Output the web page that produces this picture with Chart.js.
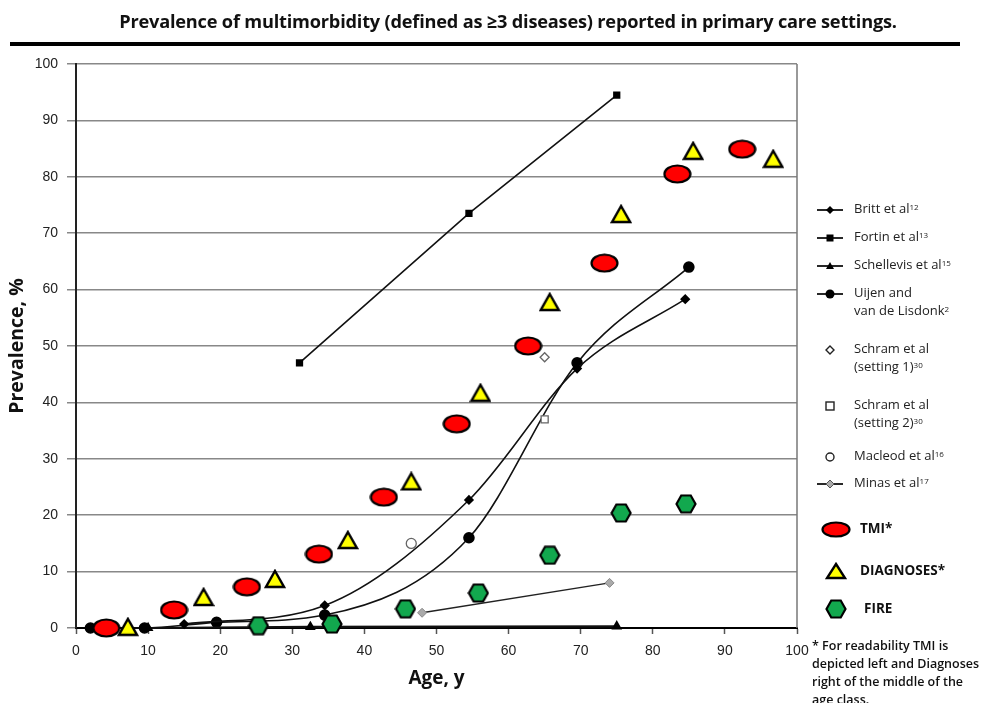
<!DOCTYPE html>
<html>
<head>
<meta charset="utf-8">
<script src="https://cdn.jsdelivr.net/npm/chart.js@4.4.1/dist/chart.umd.min.js"></script>
<style>
  html,body{margin:0;padding:0;background:#fff;}
  #wrap{position:relative;width:988px;height:703px;overflow:hidden;}
  #title{position:absolute;left:14px;top:9px;width:988px;text-align:center;font-family:"Open Sans",sans-serif;font-weight:700;font-size:18.2px;color:#111;letter-spacing:-0.2px;}
  #rule{position:absolute;left:10px;top:42px;width:950px;height:4px;background:#000;}
  canvas#c{position:absolute;left:0;top:0;}
  .lg{position:absolute;font-family:"Open Sans",sans-serif;font-size:13px;color:#222;line-height:18px;}
  .lg sup{font-size:8px;vertical-align:top;position:relative;top:-1px;}
  .ic{position:absolute;}
  .big{position:absolute;font-family:"Open Sans",sans-serif;font-weight:700;font-size:13.5px;color:#111;}
  #note{position:absolute;left:812px;top:637px;width:190px;font-family:"Open Sans",sans-serif;font-weight:600;font-size:12.5px;line-height:18px;color:#111;white-space:nowrap;}
</style>
</head>
<body>
<div id="wrap">
  <canvas id="c" width="988" height="703"></canvas>
  <div id="title">Prevalence of multimorbidity (defined as ≥3 diseases) reported in primary care settings.</div>
  <div id="rule"></div>
  <div id="legend"></div>
  <div id="note">* For readability TMI is<br>depicted left and Diagnoses<br>right of the middle of the<br>age class.</div>
</div>
<script>
// ---------- data ----------
const brittX = [15, 34.5, 54.5, 69.5, 84.5];
const brittY = [0.7, 4, 22.7, 46, 58.3];
const fortinX = [31, 54.5, 75];
const fortinY = [47, 73.5, 94.5];
const schellevisX = [10, 32.5, 75];
const schellevisY = [0, 0.2, 0.3];
const uijenX = [2, 9.5, 19.5, 34.5, 54.5, 69.5, 85];
const uijenY = [0, 0, 1, 2.3, 16, 47, 64];
const schram1X = [65];
const schram1Y = [48];
const schram2X = [65];
const schram2Y = [37];
const macleodX = [46.5];
const macleodY = [15];
const minasX = [48, 74];
const minasY = [2.7, 8];
const tmiX = [4.2, 13.6, 23.7, 33.7, 42.7, 52.8, 62.7, 73.3, 83.4, 92.4];
const tmiY = [0, 3.2, 7.3, 13.1, 23.2, 36.2, 50, 64.7, 80.5, 84.9];
const diagX = [7.2, 17.7, 27.6, 37.7, 46.5, 56.1, 65.7, 75.6, 85.6, 96.7];
const diagY = [0.2, 5.5, 8.7, 15.6, 26, 41.7, 57.8, 73.4, 84.6, 83.2];
const fireX = [25.3, 35.5, 45.7, 55.8, 65.7, 75.6, 84.6];
const fireY = [0.4, 0.7, 3.4, 6.2, 12.9, 20.4, 22];
const xTicks = [0,10,20,30,40,50,60,70,80,90,100];
const yTicks = [0,10,20,30,40,50,60,70,80,90,100];

function pts(xs, ys){ return xs.map((x,i)=>({x:x, y:ys[i]})); }

// ---------- custom marker images ----------
function mk(w,h,draw){ const c=document.createElement('canvas'); c.width=w; c.height=h; const g=c.getContext('2d'); draw(g,w,h); return c; }
function ellipse(w,h){ return mk(w,h,(g,w,h)=>{ g.beginPath(); g.ellipse(w/2,h/2,w/2-1.5,h/2-1.5,0,0,Math.PI*2); g.fillStyle='#ff0000'; g.fill(); g.lineWidth=2.2; g.strokeStyle='#000'; g.stroke(); }); }
function tri(w,h){ return mk(w,h,(g,w,h)=>{ g.beginPath(); g.moveTo(w/2,2); g.lineTo(w-2,h-2); g.lineTo(2,h-2); g.closePath(); g.fillStyle='#ffff00'; g.fill(); g.lineWidth=2.4; g.lineJoin='miter'; g.strokeStyle='#000'; g.stroke(); }); }
function hex(w,h){ return mk(w,h,(g,w,h)=>{ const cx=w/2, cy=h/2, rx=w/2-1.5, ry=h/2-1.5; g.beginPath(); g.moveTo(cx-rx,cy); g.lineTo(cx-rx/2,cy-ry); g.lineTo(cx+rx/2,cy-ry); g.lineTo(cx+rx,cy); g.lineTo(cx+rx/2,cy+ry); g.lineTo(cx-rx/2,cy+ry); g.closePath(); g.fillStyle='#12a84e'; g.fill(); g.lineWidth=2.2; g.strokeStyle='#000'; g.stroke(); }); }
const ellipseImg = ellipse(29,20);
const triImg = tri(22,20);
const hexImg = hex(22,20);

const rightBorder = {
  id:'rightBorder',
  beforeDatasetsDraw(chart){
    const {ctx, chartArea:a} = chart;
    ctx.save(); ctx.strokeStyle='#777'; ctx.lineWidth=1.5;
    ctx.beginPath(); ctx.moveTo(a.right, a.top); ctx.lineTo(a.right, a.bottom); ctx.stroke();
    ctx.restore();
  }
};

const markerDs = (label, data, img) => ({label, data, showLine:false, pointStyle:img, pointRadius:10, pointHoverRadius:10, clip:false});

new Chart(document.getElementById('c'), {
  type:'scatter',
  data:{ datasets:[
    markerDs('TMI*', pts(tmiX,tmiY), ellipseImg),
    markerDs('DIAGNOSES*', pts(diagX,diagY), triImg),
    markerDs('FIRE', pts(fireX,fireY), hexImg),
    {label:'Schram et al (setting 1)', data:pts(schram1X,schram1Y), showLine:false, pointStyle:'rectRot', pointRadius:4.5, backgroundColor:'#fff', borderColor:'#666', borderWidth:1.3, clip:false},
    {label:'Schram et al (setting 2)', data:pts(schram2X,schram2Y), showLine:false, pointStyle:'rect', pointRadius:5, backgroundColor:'#fff', borderColor:'#666', borderWidth:1.3, clip:false},
    {label:'Macleod et al', data:pts(macleodX,macleodY), showLine:false, pointStyle:'circle', pointRadius:5, backgroundColor:'#fff', borderColor:'#666', borderWidth:1.3, clip:false},
    {label:'Minas et al', data:pts(minasX,minasY), showLine:true, borderColor:'#222', borderWidth:1.5, pointStyle:'rectRot', pointRadius:4.5, pointBackgroundColor:'#aaa', pointBorderColor:'#888', pointBorderWidth:1, clip:false},
    {label:'Britt et al', data:pts(brittX,brittY), showLine:true, cubicInterpolationMode:'monotone', borderColor:'#111', borderWidth:1.6, pointStyle:'rectRot', pointRadius:4, pointBackgroundColor:'#000', pointBorderColor:'#000', clip:false},
    {label:'Fortin et al', data:pts(fortinX,fortinY), showLine:true, borderColor:'#111', borderWidth:1.6, pointStyle:'rect', pointRadius:4, pointBackgroundColor:'#000', pointBorderColor:'#000', clip:false},
    {label:'Schellevis et al', data:pts(schellevisX,schellevisY), showLine:true, borderColor:'#111', borderWidth:2.2, pointStyle:'triangle', pointRadius:4, pointBackgroundColor:'#000', pointBorderColor:'#000', clip:false},
    {label:'Uijen and van de Lisdonk', data:pts(uijenX,uijenY), showLine:true, cubicInterpolationMode:'monotone', borderColor:'#111', borderWidth:1.6, pointStyle:'circle', pointRadius:5, pointBackgroundColor:'#000', pointBorderColor:'#000', clip:false}
  ]},
  options:{
    responsive:false, animation:false,
    layout:{padding:{left:0, right:191, top:64, bottom:0}},
    plugins:{legend:{display:false}, tooltip:{enabled:false}, title:{display:false}},
    scales:{
      x:{type:'linear', min:0, max:100,
        afterBuildTicks(s){ s.ticks = xTicks.map(v=>({value:v})); },
        afterFit(s){ s.height = 75; },
        grid:{display:true, drawOnChartArea:false, drawTicks:true, tickLength:6, tickColor:'#555', tickWidth:1.5},
        border:{display:true, color:'#000', width:2},
        ticks:{color:'#222', font:{family:'"Liberation Sans", Arial, sans-serif', size:14}, padding:9, maxRotation:0},
        title:{display:true, text:'Age, y', color:'#111', font:{family:'"Open Sans", sans-serif', weight:'bold', size:19}, padding:{top:0, bottom:13}}
      },
      y:{type:'linear', min:0, max:100,
        afterBuildTicks(s){ s.ticks = yTicks.map(v=>({value:v})); },
        afterFit(s){ s.width = 76; },
        grid:{display:true, color:'#888', lineWidth:1.5, drawTicks:true, tickLength:9},
        border:{display:true, color:'#222', width:2},
        ticks:{color:'#222', font:{family:'"Liberation Sans", Arial, sans-serif', size:14}, padding:9},
        title:{display:true, text:'Prevalence, %', color:'#111', font:{family:'"Open Sans", sans-serif', weight:'bold', size:19.5}, padding:{top:6, bottom:0}}
      }
    }
  },
  plugins:[rightBorder]
});

// ---------- HTML legend ----------
const legendItems = [
  {y:208, lines:['Britt et al<sup>12</sup>'], icon:'line-diamond'},
  {y:236, lines:['Fortin et al<sup>13</sup>'], icon:'line-square'},
  {y:264, lines:['Schellevis et al<sup>15</sup>'], icon:'line-tri'},
  {y:292, lines:['Uijen and','van de Lisdonk<sup>2</sup>'], icon:'line-circle'},
  {y:348, lines:['Schram et al','(setting 1)<sup>30</sup>'], icon:'open-diamond'},
  {y:404, lines:['Schram et al','(setting 2)<sup>30</sup>'], icon:'open-square'},
  {y:455, lines:['Macleod et al<sup>16</sup>'], icon:'open-circle'},
  {y:482, lines:['Minas et al<sup>17</sup>'], icon:'line-greydiamond'}
];
function iconSvg(t){
  let s='<svg width="30" height="12" viewBox="0 0 30 12" xmlns="http://www.w3.org/2000/svg">';
  if(t.startsWith('line')) s+='<line x1="2" y1="6" x2="28" y2="6" stroke="#111" stroke-width="1.8"/>';
  if(t==='line-diamond') s+='<polygon points="15,2 19,6 15,10 11,6" fill="#000"/>';
  if(t==='line-square') s+='<rect x="11.5" y="2.5" width="7" height="7" fill="#000"/>';
  if(t==='line-tri') s+='<polygon points="15,2 19,9 11,9" fill="#000"/>';
  if(t==='line-circle') s+='<circle cx="15" cy="6" r="4.5" fill="#000"/>';
  if(t==='line-greydiamond') s+='<polygon points="15,2 19,6 15,10 11,6" fill="#aaa" stroke="#555" stroke-width="1"/>';
  if(t==='open-diamond') s+='<polygon points="15,2 19,6 15,10 11,6" fill="#fff" stroke="#222" stroke-width="1.4"/>';
  if(t==='open-square') s+='<rect x="11" y="2" width="8" height="8" fill="#fff" stroke="#222" stroke-width="1.4"/>';
  if(t==='open-circle') s+='<circle cx="15" cy="6" r="4" fill="#fff" stroke="#222" stroke-width="1.4"/>';
  return s+'</svg>';
}
const L = document.getElementById('legend');
let html='';
legendItems.forEach(it=>{
  html += '<div class="ic" style="left:815px;top:'+(it.y-6)+'px">'+iconSvg(it.icon)+'</div>';
  html += '<div class="lg" style="left:854px;top:'+(it.y-9)+'px">'+it.lines.join('<br>')+'</div>';
});
const bigItems = [
  {y:529, text:'TMI*', img:ellipse(30,17), x:860},
  {y:571, text:'DIAGNOSES*', img:tri(22,18), x:860},
  {y:609, text:'FIRE', img:hex(22,20), x:864}
];
bigItems.forEach(it=>{
  const url = it.img.toDataURL();
  html += '<img src="'+url+'" style="position:absolute;left:'+(836-it.img.width/2)+'px;top:'+(it.y-it.img.height/2)+'px">';
  html += '<div class="big" style="left:'+it.x+'px;top:'+(it.y-10)+'px">'+it.text+'</div>';
});
L.innerHTML = html;
</script>
</body>
</html>
